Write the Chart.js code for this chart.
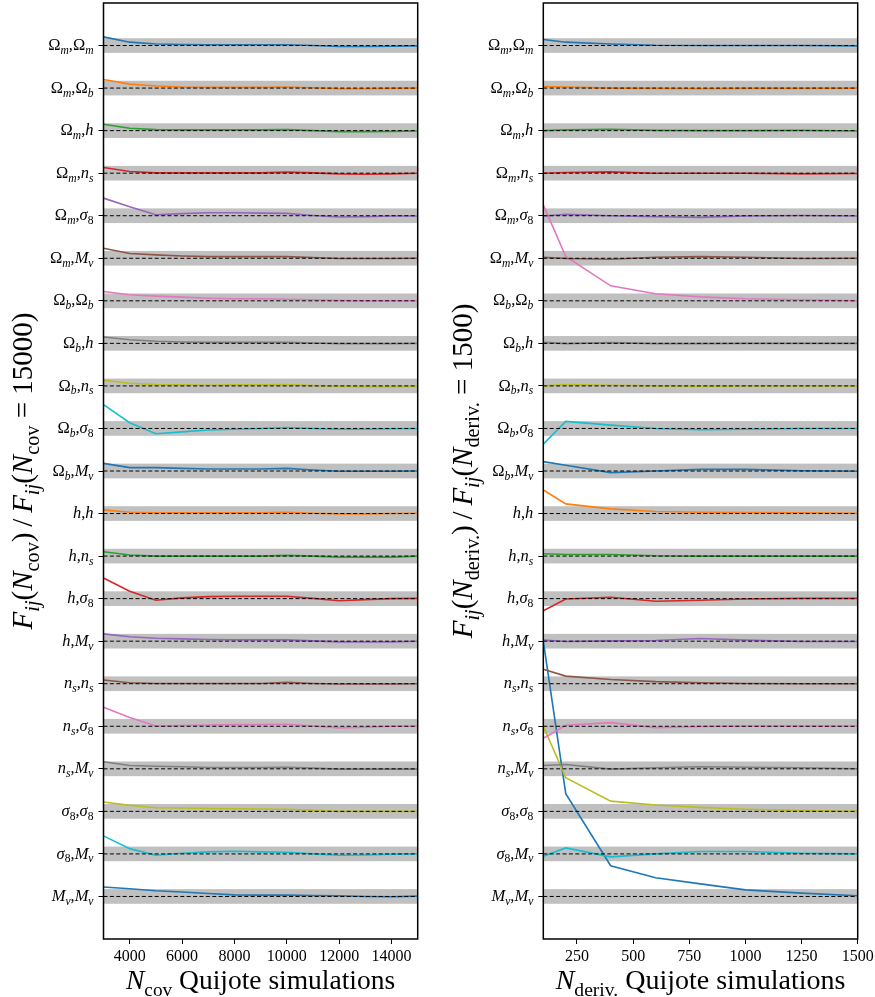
<!DOCTYPE html>
<html><head><meta charset="utf-8">
<script src="https://cdn.jsdelivr.net/npm/chart.js@4/dist/chart.umd.min.js"></script>
<style>
html,body{margin:0;padding:0;background:#fff;}
#wrap{position:relative;width:875px;height:997px;overflow:hidden;}
#a,#b{position:absolute;top:0;}
#a{left:0;} #b{left:437px;}
</style></head><body>
<div id="wrap"><canvas id="a" width="437" height="997"></canvas><canvas id="b" width="438" height="997"></canvas></div>
<script>
// ---------- data ----------
const pairLabels = ["Ω_m,Ω_m","Ω_m,Ω_b","Ω_m,h","Ω_m,n_s","Ω_m,σ_8","Ω_m,M_ν","Ω_b,Ω_b","Ω_b,h","Ω_b,n_s","Ω_b,σ_8","Ω_b,M_ν","h,h","h,n_s","h,σ_8","h,M_ν","n_s,n_s","n_s,σ_8","n_s,M_ν","σ_8,σ_8","σ_8,M_ν","M_ν,M_ν"];
const nCov = [3000,4000,5000,6000,7000,8000,9000,10000,11000,12000,13000,14000,15000];
const nDeriv = [100,200,400,600,800,1000,1250,1500];
const covTicks = [4000,6000,8000,10000,12000,14000];
const derivTicks = [250,500,750,1000,1250,1500];

// F_ij(N_cov)/F_ij(N_cov=15000)
const cov_Om_Om = [1.059,1.023,1.011,1.007,1.005,1.005,1.005,1.005,1.000,0.993,0.993,0.995,0.998];
const cov_Om_Ob = [1.059,1.027,1.014,1.007,1.005,1.005,1.005,1.007,1.002,0.995,0.995,0.998,1.000];
const cov_Om_h  = [1.043,1.016,1.007,1.005,1.005,1.005,1.005,1.007,1.000,0.993,0.993,0.995,0.998];
const cov_Om_ns = [1.039,1.011,1.002,1.002,1.002,1.002,1.002,1.007,1.002,0.995,0.993,0.995,1.000];
const cov_Om_s8 = [1.120,1.061,1.007,1.014,1.020,1.020,1.018,1.016,1.002,0.991,0.993,0.998,0.998];
const cov_Om_Mn = [1.068,1.032,1.023,1.016,1.011,1.011,1.011,1.011,1.005,0.998,0.998,0.998,1.000];
const cov_Ob_Ob = [1.064,1.041,1.032,1.025,1.018,1.014,1.014,1.011,1.007,1.002,1.000,1.000,1.000];
const cov_Ob_h  = [1.043,1.025,1.014,1.009,1.007,1.007,1.007,1.007,1.002,0.998,0.998,0.998,1.000];
const cov_Ob_ns = [1.039,1.018,1.009,1.007,1.005,1.007,1.007,1.009,1.002,0.998,0.995,0.995,0.998];
const cov_Ob_s8 = [1.163,1.039,0.964,0.977,0.989,0.995,1.000,1.007,1.000,0.995,0.995,0.998,1.000];
const cov_Ob_Mn = [1.052,1.023,1.023,1.018,1.014,1.014,1.014,1.018,1.007,0.998,0.998,0.998,1.000];
const cov_h_h   = [1.025,1.009,1.005,1.005,1.005,1.005,1.005,1.009,1.002,0.998,0.998,1.000,1.002];
const cov_h_ns  = [1.030,1.007,1.000,1.000,1.000,1.000,1.000,1.005,1.000,0.993,0.993,0.993,1.000];
const cov_h_s8  = [1.141,1.050,0.989,1.005,1.014,1.016,1.016,1.016,1.002,0.986,0.993,1.000,1.002];
const cov_h_Mn  = [1.050,1.030,1.020,1.016,1.011,1.009,1.009,1.009,1.002,0.995,0.995,0.995,1.000];
const cov_ns_ns = [1.025,1.007,1.002,1.002,1.002,1.002,1.002,1.009,1.002,0.998,0.998,0.998,1.000];
const cov_ns_s8 = [1.129,1.059,1.002,1.005,1.009,1.011,1.011,1.014,1.002,0.989,0.993,1.000,1.002];
const cov_ns_Mn = [1.048,1.023,1.018,1.014,1.009,1.009,1.009,1.011,1.005,0.998,0.998,0.998,0.998];
const cov_s8_s8 = [1.064,1.041,1.025,1.023,1.020,1.018,1.016,1.014,1.007,1.000,1.000,1.000,1.000];
const cov_s8_Mn = [1.123,1.036,0.991,1.005,1.014,1.018,1.014,1.011,1.000,0.991,0.993,0.998,1.000];
const cov_Mn_Mn = [1.064,1.052,1.039,1.030,1.020,1.011,1.009,1.009,1.007,1.005,1.000,0.998,1.002];

// F_ij(N_deriv)/F_ij(N_deriv=1500)
const der_Om_Om = [1.041,1.023,1.011,1.002,1.000,1.000,1.000,0.998];
const der_Om_Ob = [1.011,1.007,1.000,0.998,0.995,0.998,0.998,1.000];
const der_Om_h  = [1.000,1.005,1.009,1.002,1.000,1.000,1.002,0.998];
const der_Om_ns = [1.000,1.005,1.009,1.000,1.000,1.000,0.995,0.998];
const der_Om_s8 = [0.998,1.009,1.000,0.993,0.989,0.998,1.002,0.998];
const der_Om_Mn = [1.007,0.998,0.993,1.007,1.011,1.007,0.998,1.000];
const der_Ob_Ob = [1.654,1.302,1.102,1.048,1.027,1.014,1.007,1.000];
const der_Ob_h  = [1.007,0.998,1.005,0.998,0.998,1.000,1.000,1.000];
const der_Ob_ns = [1.000,1.009,1.005,1.000,0.998,1.000,1.000,1.000];
const der_Ob_s8 = [0.893,1.048,1.023,1.000,0.991,0.995,1.000,1.000];
const der_Ob_Mn = [1.064,1.039,0.989,1.000,1.011,1.011,1.002,0.998];
const der_h_h   = [1.161,1.066,1.032,1.014,1.009,1.007,1.005,1.002];
const der_h_ns  = [1.016,1.011,1.011,1.002,1.000,1.000,1.000,1.000];
const der_h_s8  = [0.918,0.998,1.009,0.982,0.989,0.998,1.002,1.002];
const der_h_Mn  = [1.007,0.998,1.002,1.005,1.018,1.007,0.998,0.998];
const der_ns_ns = [1.098,1.052,1.029,1.014,1.007,1.002,1.000,1.000];
const der_ns_s8 = [0.918,1.007,1.025,0.991,0.998,1.002,1.002,1.002];
const der_ns_Mn = [1.023,1.029,0.998,1.007,1.014,1.011,1.007,1.000];
const der_s8_s8 = [1.581,1.229,1.070,1.043,1.027,1.014,1.005,1.000];
const der_s8_Mn = [0.984,1.041,0.980,1.000,1.016,1.016,1.005,1.000];
const der_Mn_Mn = [2.740,1.701,1.209,1.127,1.086,1.045,1.023,1.005];

const covSeries = [cov_Om_Om,cov_Om_Ob,cov_Om_h,cov_Om_ns,cov_Om_s8,cov_Om_Mn,cov_Ob_Ob,cov_Ob_h,cov_Ob_ns,cov_Ob_s8,cov_Ob_Mn,cov_h_h,cov_h_ns,cov_h_s8,cov_h_Mn,cov_ns_ns,cov_ns_s8,cov_ns_Mn,cov_s8_s8,cov_s8_Mn,cov_Mn_Mn];
const derSeries = [der_Om_Om,der_Om_Ob,der_Om_h,der_Om_ns,der_Om_s8,der_Om_Mn,der_Ob_Ob,der_Ob_h,der_Ob_ns,der_Ob_s8,der_Ob_Mn,der_h_h,der_h_ns,der_h_s8,der_h_Mn,der_ns_ns,der_ns_s8,der_ns_Mn,der_s8_s8,der_s8_Mn,der_Mn_Mn];

const tab10 = ['#1f77b4','#ff7f0e','#2ca02c','#d62728','#9467bd','#8c564b','#e377c2','#7f7f7f','#bcbd22','#17becf'];

// ---------- rendering helpers ----------
const ROW = 0.29;      // row spacing in ratio units
const BAND = 0.05;     // grey band half-width
const NROW = pairLabels.length;
const FONT = '"Liberation Serif", "DejaVu Serif", serif';

function rowBase(i){ return (NROW-1-i)*ROW; }

function drawTokens(ctx, toks, x, y, size, align){
  const parts = toks.map(([t,s])=>{
    const sub = s[0]==='s', it = s.endsWith('i');
    const fs = sub ? size*0.7 : size;
    const font = (it?'italic ':'') + fs.toFixed(2) + 'px ' + FONT;
    ctx.font = font;
    return {t, font, w: ctx.measureText(t).width, dy: sub ? size*0.24 : 0};
  });
  const total = parts.reduce((a,p)=>a+p.w,0);
  let cx = align==='right' ? x-total : align==='center' ? x-total/2 : x;
  ctx.textAlign='left'; ctx.textBaseline='alphabetic';
  for(const p of parts){ ctx.font=p.font; ctx.fillText(p.t, cx, y+p.dy); cx += p.w; }
  return total;
}
function parsePair(str){
  const toks=[];
  for(let k=0;k<str.length;k++){
    let c=str[k], sub=false;
    if(c==='_'){ sub=true; c=str[++k]; }
    const it=/[a-zA-Zσν]/.test(c);
    toks.push([c,(sub?'s':'')+(it?'i':'r')]);
  }
  return toks;
}

function makePanel(id, xs, series, xMin, xMax, xTicks, yW, padR, xTitle, xTitleSize, yTitle, yTitleX){
  const deco = {
    id:'deco'+id,
    beforeDatasetsDraw(chart){
      const {ctx, chartArea:a, scales:{y}} = chart;
      ctx.save(); ctx.fillStyle='#c0c0c0';
      for(let i=0;i<NROW;i++){
        const t=y.getPixelForValue(rowBase(i)+BAND), b=y.getPixelForValue(rowBase(i)-BAND);
        ctx.fillRect(a.left, t, a.right-a.left, b-t);
      }
      ctx.restore();
    },
    afterDatasetsDraw(chart){
      const {ctx, chartArea:a, scales:{x,y}} = chart;
      ctx.save();
      ctx.strokeStyle='#000'; ctx.lineWidth=1; ctx.setLineDash([4,2.4]);
      for(let i=0;i<NROW;i++){
        const py=y.getPixelForValue(rowBase(i));
        ctx.beginPath(); ctx.moveTo(a.left,py); ctx.lineTo(a.right,py); ctx.stroke();
      }
      ctx.setLineDash([]);
      ctx.lineWidth=1.5; ctx.strokeStyle='#000';
      ctx.strokeRect(a.left, a.top, a.right-a.left, a.bottom-a.top);
      // y tick labels
      ctx.fillStyle='#000';
      for(let i=0;i<NROW;i++){
        const py=y.getPixelForValue(rowBase(i));
        drawTokens(ctx, parsePair(pairLabels[i]), a.left-10, py+4.6, 16.5, 'right');
      }
      // x tick labels
      for(const v of xTicks){
        const px=x.getPixelForValue(v);
        drawTokens(ctx, [[String(v),'r']], px, a.bottom+22, 16, 'center');
      }
      // x title
      drawTokens(ctx, xTitle, (a.left+a.right)/2, 989, xTitleSize, 'center');
      // y title (rotated, centred on plot)
      ctx.translate(yTitleX, (a.top+a.bottom)/2); ctx.rotate(-Math.PI/2);
      drawTokens(ctx, yTitle, 0, 0, 29, 'center');
      ctx.restore();
    }
  };
  return new Chart(document.getElementById(id), {
    type:'line',
    data:{ datasets: series.map((vals,i)=>({
      data: xs.map((xv,j)=>({x:xv, y: rowBase(i) + (vals[j]-1)})),
      borderColor: tab10[i%10], borderWidth:1.6, pointRadius:0, fill:false, tension:0
    }))},
    options:{
      responsive:false, animation:false, devicePixelRatio:1,
      layout:{padding:{top:3, right:padR, bottom:0, left:0}},
      plugins:{legend:{display:false}, tooltip:{enabled:false}},
      scales:{
        x:{type:'linear', min:xMin, max:xMax,
           afterBuildTicks:s=>{ s.ticks = xTicks.map(v=>({value:v})); },
           ticks:{display:false},
           grid:{drawOnChartArea:false, drawTicks:true, tickLength:5, color:'#000', lineWidth:1},
           border:{display:false},
           afterFit:s=>{ s.height = 58; }},
        y:{type:'linear', min:-ROW, max:NROW*ROW,
           afterBuildTicks:s=>{ s.ticks = pairLabels.map((_,i)=>({value:rowBase(i)})); },
           ticks:{display:false},
           grid:{drawOnChartArea:false, drawTicks:true, tickLength:5, color:'#000', lineWidth:1},
           border:{display:false},
           afterFit:s=>{ s.width = yW; }}
      }
    },
    plugins:[deco]
  });
}

const covX = [['N','i'],['cov','sr'],[' Quijote simulations','r']];
const derX = [['N','i'],['deriv.','sr'],[' Quijote simulations','r']];
const covY = [['F','i'],['ij','si'],['(','r'],['N','i'],['cov','sr'],[')\u2009/\u2009','r'],['F','i'],['ij','si'],['(','r'],['N','i'],['cov','sr'],[' = 15000)','r']];
const derY = [['F','i'],['ij','si'],['(','r'],['N','i'],['deriv.','sr'],[')\u2009/\u2009','r'],['F','i'],['ij','si'],['(','r'],['N','i'],['deriv.','sr'],[' = 1500)','r']];

makePanel('a', nCov, covSeries, 3000, 15000, covTicks, 103.5, 19.3, covX, 27.5, covY, 32);
makePanel('b', nDeriv, derSeries, 100, 1500, derivTicks, 106.3, 17.3, derX, 28, derY, 35);
</script>
</body></html>
